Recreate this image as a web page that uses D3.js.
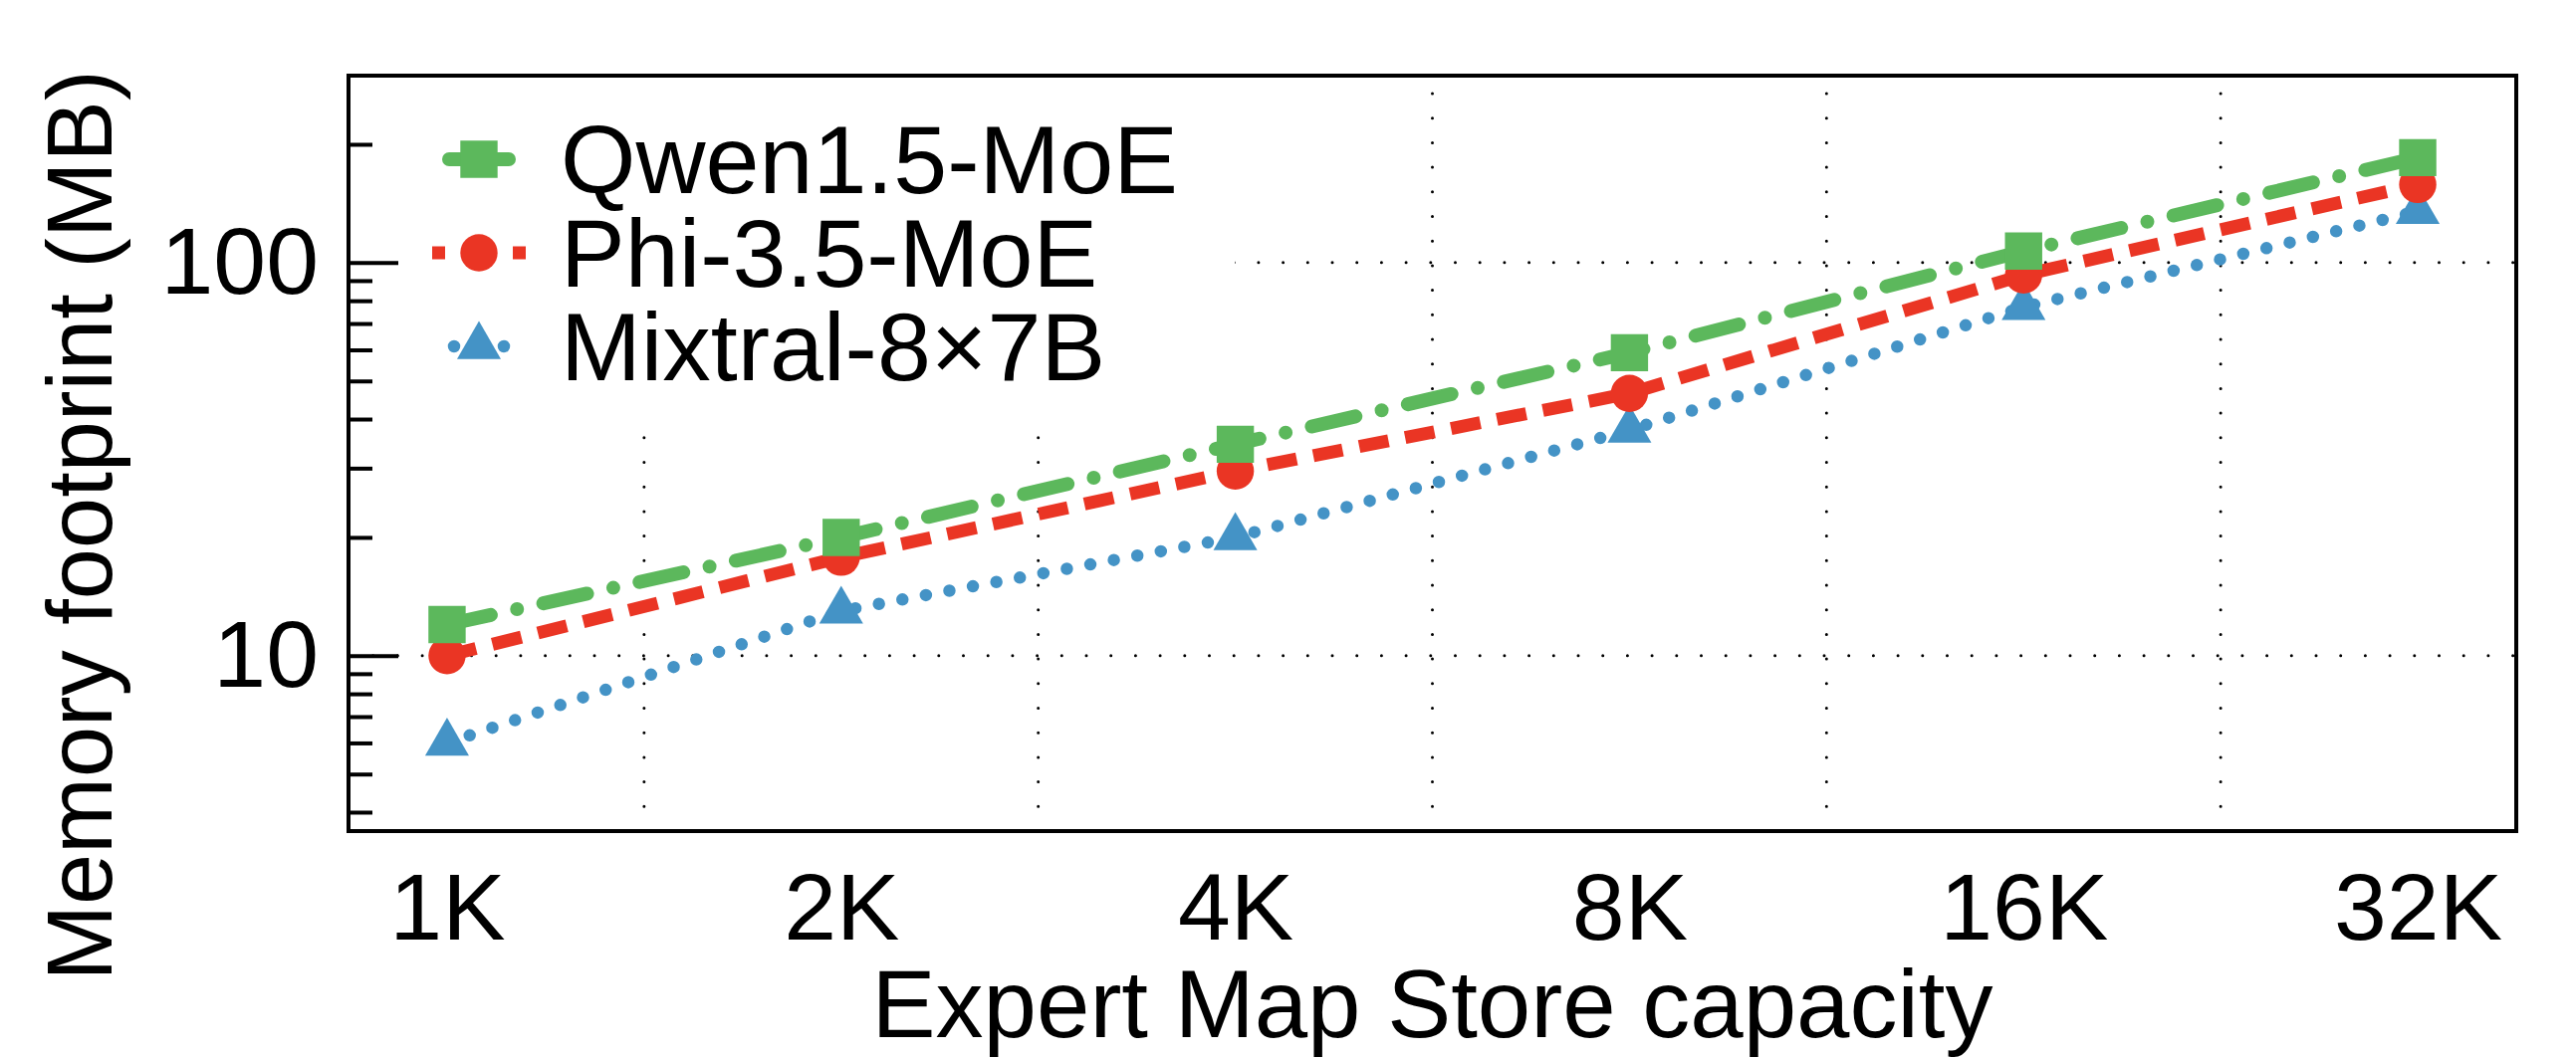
<!DOCTYPE html>
<html>
<head>
<meta charset="utf-8">
<script src="https://cdn.jsdelivr.net/npm/d3@7"></script>
<style>
  html, body { margin: 0; padding: 0; background: #fff; }
  svg { display: block; font-family: "Liberation Sans", Arial, Helvetica, sans-serif; }
  .tick text { fill: #000; }
</style>
</head>
<body>
<svg id="chart"></svg>
<script>
const W = 2587;
const H = 1063;

// data (MB, log scale)
const CAPACITIES = ["1K", "2K", "4K", "8K", "16K", "32K"];
const QWEN = [12, 20, 34.5, 59, 107, 185];
const PHI = [10, 17.8, 29.5, 46.5, 93, 158];
const MIXTRAL = [6, 13, 20, 37.5, 77, 135];
const SERIES_NAMES = ["Qwen1.5-MoE", "Phi-3.5-MoE", "Mixtral-8\u00d77B"];
const Y_MAJOR = [10, 100];
const Y_MINOR = [4, 5, 6, 7, 8, 9, 20, 30, 40, 50, 60, 70, 80, 90, 200];

const PLOT = { left: 350, right: 2527, top: 76, bottom: 835 };

const series = [
  { name: SERIES_NAMES[0], values: QWEN, color: "#5cb85c", width: 14, dash: "45,27,0,27", cap: "round",
    symbol: d3.symbolSquare, size: 1400, legend: { x0: 451, x1: 511, dash: null } },
  { name: SERIES_NAMES[1], values: PHI, color: "#ea3524", width: 13, dash: "30,17", cap: "butt",
    symbol: d3.symbolCircle, size: 1100, legend: { x0: 434, x1: 528, dash: "13,68" } },
  { name: SERIES_NAMES[2], values: MIXTRAL, color: "#4493c6", width: 12.5, dash: "0,24", cap: "round",
    symbol: d3.symbolTriangle, size: 840, legend: { x0: 456, x1: 507, dash: "0,50" } }
];

const x = d3.scaleLinear().domain([-0.25, 5.25]).range([PLOT.left, PLOT.right]);
const y = d3.scaleLog().domain([3.58, 299]).range([PLOT.bottom, PLOT.top]);

const svg = d3.select("#chart")
  .attr("width", W)
  .attr("height", H)
  .attr("viewBox", `0 0 ${W} ${H}`);

// dotted grid
const grid = svg.append("g")
  .attr("stroke", "#000")
  .attr("stroke-width", 3)
  .attr("stroke-linecap", "round")
  .attr("stroke-dasharray", "0,24.7");

d3.range(CAPACITIES.length - 1).forEach(i => {
  grid.append("line")
    .attr("x1", x(i + 0.5)).attr("x2", x(i + 0.5))
    .attr("y1", PLOT.bottom).attr("y2", PLOT.top);
});
Y_MAJOR.forEach(v => {
  grid.append("line")
    .attr("x1", PLOT.left).attr("x2", PLOT.right)
    .attr("y1", y(v)).attr("y2", y(v));
});

// legend box hides the grid behind it
svg.append("rect")
  .attr("x", PLOT.left + 2).attr("y", PLOT.top + 2)
  .attr("width", 888).attr("height", 352)
  .attr("fill", "#fff");

// y axis: minor + major ticks pointing inwards
const yMinor = d3.axisLeft(y).tickValues(Y_MINOR).tickSize(-24).tickFormat("");
svg.append("g")
  .attr("transform", `translate(${PLOT.left},0)`)
  .call(yMinor)
  .call(g => g.select(".domain").remove())
  .call(g => g.selectAll("line").attr("stroke", "#000").attr("stroke-width", 4));

const yMajor = d3.axisLeft(y).tickValues(Y_MAJOR).tickSize(-50).tickPadding(30).tickFormat(d3.format("d"));
svg.append("g")
  .attr("transform", `translate(${PLOT.left},0)`)
  .call(yMajor)
  .call(g => g.select(".domain").remove())
  .call(g => g.selectAll("line").attr("stroke", "#000").attr("stroke-width", 4))
  .call(g => g.selectAll("text").attr("font-size", 95).attr("font-family", null));

// x axis labels
const xAxis = d3.axisBottom(x)
  .tickValues(d3.range(CAPACITIES.length))
  .tickFormat(i => CAPACITIES[i])
  .tickSize(0)
  .tickPadding(42);
svg.append("g")
  .attr("transform", `translate(0,${PLOT.bottom})`)
  .call(xAxis)
  .call(g => g.select(".domain").remove())
  .call(g => g.selectAll("text").attr("font-size", 95).attr("font-family", null));

// frame
svg.append("rect")
  .attr("x", PLOT.left).attr("y", PLOT.top)
  .attr("width", PLOT.right - PLOT.left)
  .attr("height", PLOT.bottom - PLOT.top)
  .attr("fill", "none")
  .attr("stroke", "#000")
  .attr("stroke-width", 4);

// axis titles
svg.append("text")
  .attr("x", (PLOT.left + PLOT.right) / 2)
  .attr("y", 1042)
  .attr("text-anchor", "middle")
  .attr("font-size", 96)
  .text("Expert Map Store capacity");

svg.append("text")
  .attr("transform", "translate(112,528) rotate(-90)")
  .attr("text-anchor", "middle")
  .attr("font-size", 92)
  .text("Memory footprint (MB)");

// series, drawn bottom-up so Qwen sits on top
const line = d3.line()
  .x((d, i) => x(i))
  .y(d => y(d));

series.slice().reverse().forEach(s => {
  svg.append("path")
    .datum(s.values)
    .attr("d", line)
    .attr("fill", "none")
    .attr("stroke", s.color)
    .attr("stroke-width", s.width)
    .attr("stroke-linecap", s.cap)
    .attr("stroke-dasharray", s.dash);

  svg.append("g")
    .selectAll("path")
    .data(s.values)
    .join("path")
    .attr("transform", (d, i) => `translate(${x(i)},${y(d)})`)
    .attr("d", d3.symbol(s.symbol, s.size))
    .attr("fill", s.color);
});

// legend
const LEGEND_ROWS = [160, 254, 348];
const MARK_X = 481;
const TEXT_X = 563;

series.forEach((s, i) => {
  const ry = LEGEND_ROWS[i];
  svg.append("line")
    .attr("x1", s.legend.x0).attr("x2", s.legend.x1)
    .attr("y1", ry).attr("y2", ry)
    .attr("stroke", s.color)
    .attr("stroke-width", s.width)
    .attr("stroke-linecap", s.cap)
    .attr("stroke-dasharray", s.legend.dash);
  svg.append("path")
    .attr("transform", `translate(${MARK_X},${ry})`)
    .attr("d", d3.symbol(s.symbol, s.size))
    .attr("fill", s.color);
  svg.append("text")
    .attr("x", TEXT_X)
    .attr("y", ry + 34)
    .attr("font-size", 97)
    .text(s.name);
});
</script>
</body>
</html>
